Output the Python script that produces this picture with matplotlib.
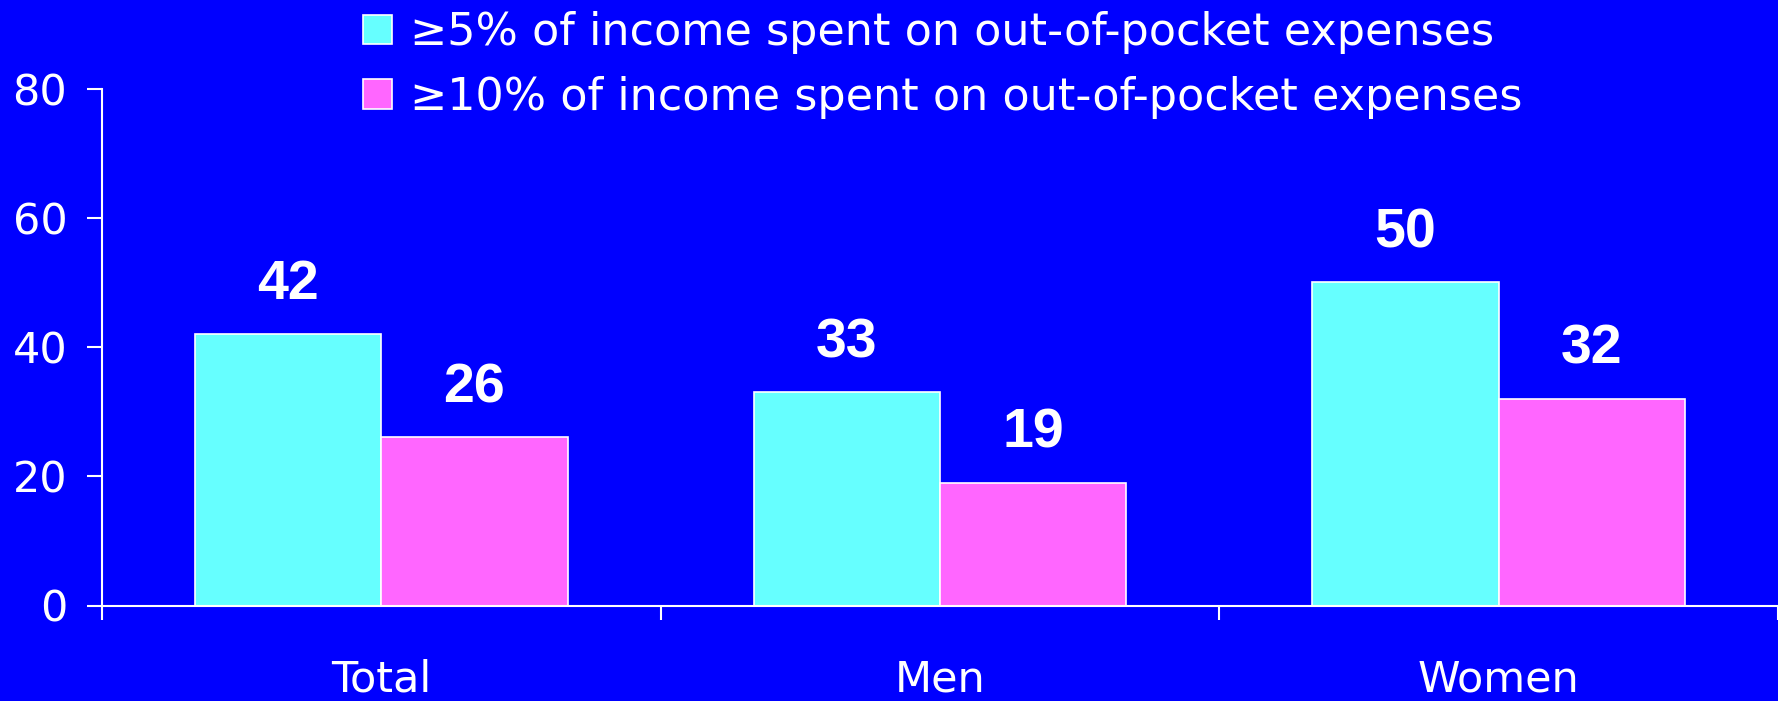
import matplotlib
matplotlib.use("Agg")
import matplotlib.pyplot as plt
from matplotlib.patches import Patch
import numpy as np

categories = ["Total", "Men", "Women"]
over5 = [42, 33, 50]
over10 = [26, 19, 32]
series_labels = ["≥5% of income spent on out-of-pocket expenses",
                 "≥10% of income spent on out-of-pocket expenses"]
yticks = [0, 20, 40, 60, 80]

BG = "#0000FF"
CYAN = "#66FFFF"
MAGENTA = "#FF66FF"
WHITE = "white"


def main():
    plt.rcParams['font.family'] = ['DejaVu Sans']
    fig = plt.figure(figsize=(17.78, 7.01), dpi=100, facecolor=BG)
    ax = fig.add_axes([102 / 1778, 95.5 / 701, 1 - 102 / 1778, 517 / 701])
    ax.set_facecolor(BG)

    x = np.arange(len(categories)) + 0.5
    w = 1 / 3
    b1 = ax.bar(x - w / 2, over5, w, color=CYAN, edgecolor=WHITE, linewidth=1.2)
    b2 = ax.bar(x + w / 2, over10, w, color=MAGENTA, edgecolor=WHITE, linewidth=1.2)

    for bars, vals in ((b1, over5), (b2, over10)):
        for r, v in zip(bars, vals):
            ax.annotate(str(v), (r.get_x() + r.get_width() / 2, v),
                        xytext=(0, 25), textcoords="offset points",
                        ha="center", va="baseline", color=WHITE,
                        fontsize=40, fontweight="bold",
                        family="Liberation Sans")

    ax.set_xlim(0, 3)
    ax.set_ylim(0, 80)
    ax.set_yticks(yticks)
    ax.set_xticks([0, 1, 2, 3])
    ax.set_xticklabels([])
    ax.set_xticks(x, minor=True)
    ax.set_xticklabels(categories, minor=True)

    ax.tick_params(axis="y", colors=WHITE, labelsize=31, length=11,
                   width=1.5, pad=14, direction="out")
    ax.tick_params(axis="x", which="major", colors=WHITE, length=10,
                   width=1.5, direction="out")
    ax.tick_params(axis="x", which="minor", colors=WHITE, length=0,
                   labelsize=31, pad=38)

    for s in ("top", "right"):
        ax.spines[s].set_visible(False)
    for s in ("left", "bottom"):
        ax.spines[s].set_color(WHITE)
        ax.spines[s].set_linewidth(1.5)

    handles = [Patch(facecolor=CYAN, edgecolor=WHITE, linewidth=1.2),
               Patch(facecolor=MAGENTA, edgecolor=WHITE, linewidth=1.2)]
    leg = fig.legend(handles, series_labels, loc="upper left",
                     bbox_to_anchor=(363 / 1778, 1 - 11 / 701),
                     frameon=False, fontsize=32, borderpad=0,
                     borderaxespad=0, handlelength=0.65, handleheight=0.65,
                     handletextpad=0.4, labelspacing=0.49)
    for t in leg.get_texts():
        t.set_color(WHITE)

    fig.savefig("out.png", dpi=100, facecolor=BG)


if __name__ == "__main__":
    main()
